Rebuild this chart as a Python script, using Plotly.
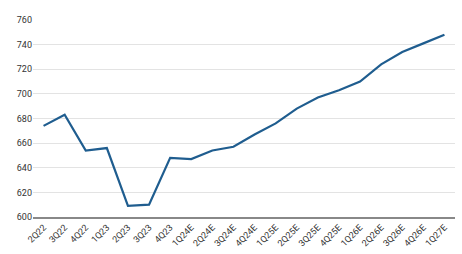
import plotly.graph_objects as go

quarters = ["2Q22","3Q22","4Q22","1Q23","2Q23","3Q23","4Q23","1Q24E","2Q24E","3Q24E",
            "4Q24E","1Q25E","2Q25E","3Q25E","4Q25E","1Q26E","2Q26E","3Q26E","4Q26E","1Q27E"]
values = [674, 683, 654, 656, 609, 610, 648, 647, 654, 657,
          667, 676, 688, 697, 703, 710, 724, 734, 741, 748]
y_ticks = [600, 620, 640, 660, 680, 700, 720, 740, 760]

fig = go.Figure()
fig.add_trace(go.Scatter(x=quarters, y=values, mode="lines",
                         line=dict(color="#1f5d8f", width=2.2), showlegend=False))

fig.update_layout(
    width=462, height=254,
    margin=dict(l=33, r=7, t=20, b=37),
    paper_bgcolor="white", plot_bgcolor="white",
    font=dict(family="Liberation Sans Narrow, Roboto, sans-serif", size=9, color="#333333"),
    xaxis=dict(type="category", tickangle=-45, showgrid=False, showline=True,
               linecolor="#888888", linewidth=1.5, ticks="", range=[-0.5, 19.5],
               tickfont=dict(size=9)),
    yaxis=dict(range=[600, 760], tickvals=y_ticks, showgrid=True, gridcolor="#e3e3e3",
               gridwidth=1, zeroline=False, showline=False, ticks="",
               tickfont=dict(size=9)),
)
fig.write_html("out.html")
